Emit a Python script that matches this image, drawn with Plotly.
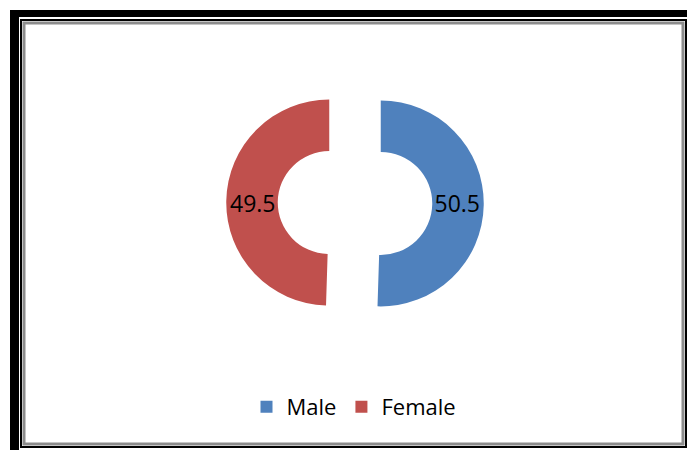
import plotly.graph_objects as go

W, H = 687, 450

labels = ["Male", "Female"]
values = [50.5, 49.5]
colors = ["#4F81BD", "#C0504D"]


def px(x):
    return x / W


def py(y):
    return 1 - y / H


fig = go.Figure(
    go.Pie(
        labels=labels,
        values=values,
        hole=0.5,
        pull=[0.25, 0.25],
        sort=False,
        direction="clockwise",
        rotation=0,
        marker=dict(colors=colors, line=dict(width=0)),
        textinfo="value",
        textposition="inside",
        insidetextorientation="horizontal",
        textfont=dict(family="Open Sans", size=23, color="#000000"),
        hoverinfo="label+value",
        domain=dict(x=[px(226.25), px(483.75)], y=[py(331.75), py(74.25)]),
    )
)

# Frame: heavy black edge on the top/left, thin black box, grey inner box
shapes = [
    dict(type="rect", x0=px(10), x1=px(19), y0=py(450), y1=py(10),
         fillcolor="#000000", line=dict(width=0)),
    dict(type="rect", x0=px(10), x1=px(687), y0=py(17), y1=py(10),
         fillcolor="#000000", line=dict(width=0)),
    dict(type="rect", x0=px(21), x1=px(686), y0=py(447), y1=py(20),
         line=dict(color="#000000", width=2), fillcolor="rgba(0,0,0,0)"),
    dict(type="rect", x0=px(24), x1=px(683), y0=py(444), y1=py(23),
         line=dict(color="#8C8C8C", width=3), fillcolor="rgba(0,0,0,0)"),
]

fig.update_layout(
    width=W,
    height=H,
    margin=dict(l=0, r=0, t=0, b=0),
    paper_bgcolor="#FFFFFF",
    plot_bgcolor="#FFFFFF",
    shapes=shapes,
    showlegend=True,
    legend=dict(
        orientation="h",
        x=px(354),
        y=py(407),
        xanchor="center",
        yanchor="middle",
        font=dict(family="Open Sans", size=22, color="#000000"),
        itemwidth=30,
        traceorder="normal",
    ),
)

fig.write_html("out.html")
